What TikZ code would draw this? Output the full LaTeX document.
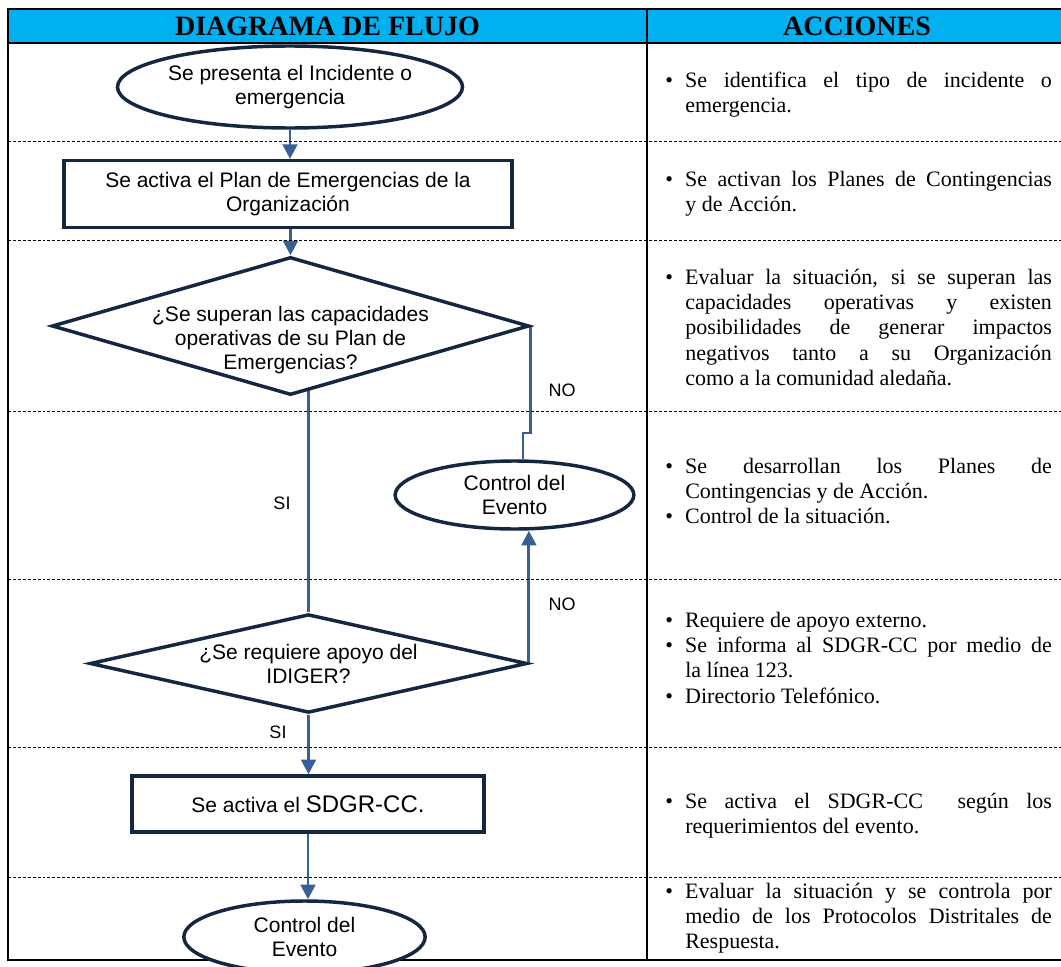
\documentclass[tikz,border=0pt]{standalone}
\usepackage{fontspec}
\setmainfont{Liberation Serif}
\setsansfont{Liberation Sans}
\usetikzlibrary{shapes.geometric, arrows.meta, positioning, backgrounds}
\usepackage{xcolor}
\definecolor{HeadCyan}{RGB}{0,176,240}
\definecolor{NavyLine}{RGB}{20,38,64}
\definecolor{FlowBlue}{RGB}{56,96,150}
\tolerance=10000
\hbadness=10000
\newcommand{\accbullet}{\noindent\hangindent=15pt\hangafter=1\makebox[15pt][l]{\textbullet}}

\begin{document}
\begin{tikzpicture}[x=0.75pt, y=-0.75pt,
          startend/.style={ellipse, draw=NavyLine, fill=white, line width=2.6pt, inner sep=0pt, align=center, font=\sffamily\fontsize{15.75}{18}\selectfont},
          process/.style={rectangle, draw=NavyLine, fill=white, line width=2.6pt, inner sep=0pt, align=center, font=\sffamily\fontsize{15.75}{18}\selectfont},
          decision/.style={diamond, aspect=4.4, draw=NavyLine, fill=white, line width=2.6pt, inner sep=0pt, align=center, font=\sffamily\fontsize{15.75}{18}\selectfont},
          decisiontext/.style={align=center, inner sep=0pt, font=\sffamily\fontsize{15.75}{18}\selectfont},
          flow/.style={draw=FlowBlue, line width=2.2pt},
          flowarrow/.style={flow, -{Triangle[length=11pt, width=11pt]}},
          answer/.style={inner sep=0pt, font=\sffamily\fontsize{13.5}{16}\selectfont},
          rowline/.style={dash pattern=on 2.2pt off 1.5pt, line width=0.6pt},
          header/.style={inner sep=0pt, font=\bfseries\fontsize{21}{24}\selectfont},
          accion/.style={anchor=base west, inner sep=0pt, text width=290pt, align=justify, font=\fontsize{16.5}{19.1}\selectfont}
        ]
          \clip (0,0) rectangle (1061,967);
          % table
          \fill[HeadCyan] (8,9) rectangle (1067,43);
          \foreach \yrow in {141,240,411,579,747,877}
            \draw[rowline] (8,\yrow) -- (1067,\yrow);
          \draw[line width=1.6pt] (647,9) -- (647,960);
          \draw[line width=1.6pt] (8,43) -- (1067,43);
          \draw[line width=2.2pt] (8,9) rectangle (1067,960);
          \node[header] (flujo) at (327.5,26) {DIAGRAMA DE FLUJO};
          \node[header] (acciones) at (857,26) {ACCIONES};

          % flow chart
          \node[startend, minimum width=256pt, minimum height=61.5pt] (inc) at (290,87) {Se presenta el Incidente o\\emergencia};
          \node[process, minimum width=336pt, minimum height=50pt] (plan) at (288,194) {Se activa el Plan de Emergencias de la\\Organización};
          \node[decision, minimum width=358pt, minimum height=103.5pt,
                label={[decisiontext, yshift=-10.5pt]center:{¿Se superan las capacidades\\operativas de su Plan de\\Emergencias?}}] (cap) at (290.5,326) {};
          \node[startend, minimum width=179pt, minimum height=51pt] (ev1) at (514.5,495) {Control del\\Evento};
          \node[decision, minimum width=328pt, minimum height=74pt] (req) at (308.5,663.5) {¿Se requiere apoyo del\\IDIGER?};
          \node[process, minimum width=264pt, minimum height=42pt] (act) at (308,804) {Se activa el {\fontsize{18}{20}\selectfont SDGR-CC.}};
          \node[startend, minimum width=181pt, minimum height=54pt] (ev2) at (304.5,937) {Control del\\Evento};

          \node[answer] (no1) at (562,390) {NO};
          \node[answer] (no2) at (562,604) {NO};
          \node[answer] (si1) at (282,503) {SI};
          \node[answer] (si2) at (278,732) {SI};

          \coordinate (jog) at (523,433);
          \begin{scope}[on background layer]
            \draw[flowarrow] (inc.south) -- (inc.south |- plan.north);
            \draw[flowarrow] (cap.north |- plan.south) -- (cap.north);
            \draw[flow] (cap.center -| req.north) -- (req.north);
            \draw[flow] (cap.east) |- (jog) -- (jog |- ev1.north);
            \draw[flowarrow] (req.east) -- (req.east |- ev1.south);
            \draw[flowarrow] (req.south) -- (req.south |- act.north);
            \draw[flowarrow] (act.south) -- (act.south |- ev2.north);
          \end{scope}

          % acciones
          \node[accion] (acc1) at (665,87) {\accbullet Se identifica el tipo de incidente o\linebreak emergencia.\par};
          \node[accion] (acc2) at (665,186) {\accbullet Se activan los Planes de Contingencias\linebreak y de Acción.\par};
          \node[accion] (acc3) at (665,284) {\accbullet Evaluar la situación, si se superan las\linebreak capacidades operativas y existen\linebreak posibilidades de generar impactos\linebreak negativos tanto a su Organización\linebreak como a la comunidad aledaña.\par};
          \node[accion] (acc4) at (665,473) {\accbullet Se desarrollan los Planes de\linebreak Contingencias y de Acción.\par
            \accbullet Control de la situación.\par};
          \node[accion] (acc5) at (665,627) {\accbullet Requiere de apoyo externo.\par
            \accbullet Se informa al SDGR-CC por medio de\linebreak la línea 123.\par
            \accbullet Directorio Telefónico.\par};
          \node[accion] (acc6) at (665,808) {\accbullet Se activa el SDGR-CC \ según los\linebreak requerimientos del evento.\par};
          \node[accion] (acc7) at (665,898) {\accbullet Evaluar la situación y se controla por\linebreak medio de los Protocolos Distritales de\linebreak Respuesta.\par};
        \end{tikzpicture}
\end{document}
